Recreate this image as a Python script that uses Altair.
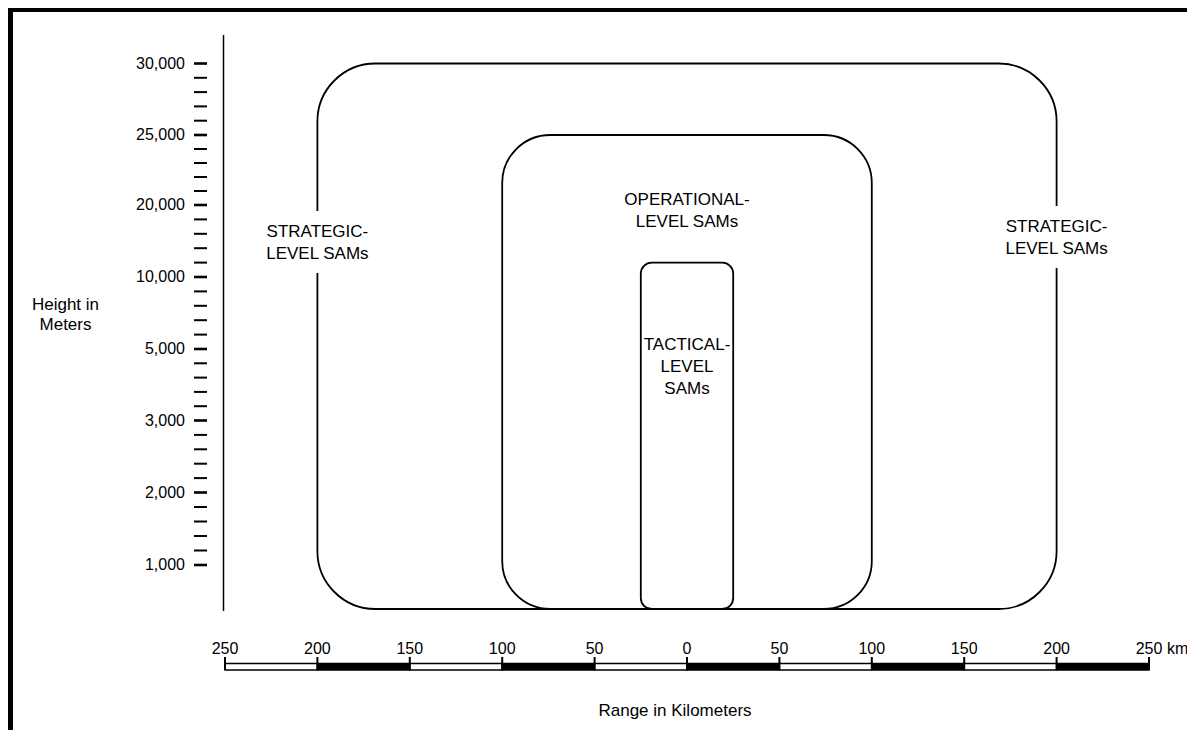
import altair as alt
import pandas as pd

# ---------------- data ----------------
height_major = [1000, 2000, 3000, 5000, 10000, 20000, 25000, 30000]

box_names = ["Strategic", "Operational", "Tactical"]
box_x_start = [-200, -100, -25]
box_x_end = [200, 100, 25]
box_bottom = [0, 0, 0]
box_top = [30000, 25000, 12000]

label_texts = ["STRATEGIC-\nLEVEL SAMs", "STRATEGIC-\nLEVEL SAMs",
               "OPERATIONAL-\nLEVEL SAMs", "TACTICAL-\nLEVEL\nSAMs"]
label_km = [-200, 200, 0, 0]
label_m = [15600, 16300, 20000, 4960]
label_halo = [True, True, False, False]

bar_km = [-250, -200, -150, -100, -50, 0, 50, 100, 150, 200, 250]
bar_labels = ["250", "200", "150", "100", "50", "0", "50", "100", "150", "200", "250"]
bar_fill = ["white", "black", "white", "black", "white", "black", "white", "black", "white", "black"]

y_title = "Height in\nMeters"
x_title = "Range in Kilometers"
unit_text = "km"

# ---------------- derived tables ----------------
minor = []
for a, b in zip(height_major[:-1], height_major[1:]):
    for k in range(1, 5):
        minor.append(a + (b - a) * k / 5)
ticks_major = pd.DataFrame({"v": height_major})
ticks_minor = pd.DataFrame({"v": minor})

boxes = pd.DataFrame({"name": box_names, "x1": box_x_start, "x2": box_x_end,
                      "y1": box_bottom, "y2": box_top})
labels = pd.DataFrame({"t": label_texts, "x": label_km, "y": label_m, "halo": label_halo})
segs = pd.DataFrame({"s": bar_km[:-1], "e": bar_km[1:], "c": bar_fill})
bar_ticks = pd.DataFrame({"x": bar_km, "t": bar_labels})

FONT = "Liberation Sans"
W, H = 1179, 722

xs = alt.Scale(domain=[-250, 250], range=[217, 1141])
ys = alt.Scale(domain=[0, 1000, 2000, 3000, 5000, 10000, 20000, 25000, 30000],
               range=[601, 557, 484.5, 412.5, 341, 269, 197, 127, 55.5])

X = lambda f: alt.X(f, type="quantitative", scale=xs, axis=None)
Y = lambda f: alt.Y(f, type="quantitative", scale=ys, axis=None)

dummy = pd.DataFrame({"a": [0]})

# frame (top and left borders)
frame_top = alt.Chart(dummy).mark_rule(color="black", strokeWidth=4).encode(
    x=alt.value(0), x2=alt.value(W), y=alt.value(2))
frame_left = alt.Chart(dummy).mark_rule(color="black", strokeWidth=5).encode(
    x=alt.value(2.5), y=alt.value(0), y2=alt.value(H))

# vertical height axis line
axis_line = alt.Chart(dummy).mark_rule(color="black", strokeWidth=1.5).encode(
    x=alt.value(215.5), y=alt.value(27), y2=alt.value(603))

tick_minor = alt.Chart(ticks_minor).mark_rule(color="black", strokeWidth=2).encode(
    x=alt.value(186), x2=alt.value(199), y=Y("v"))
tick_major = alt.Chart(ticks_major).mark_rule(color="black", strokeWidth=2.6).encode(
    x=alt.value(186), x2=alt.value(199), y=Y("v"))
tick_text = alt.Chart(ticks_major).mark_text(
    align="right", baseline="middle", font=FONT, fontSize=16, color="black").encode(
    x=alt.value(177), y=Y("v"), text=alt.Text("v:Q", format=","))

y_title_mark = alt.Chart(pd.DataFrame({"t": [y_title]})).mark_text(
    align="center", baseline="alphabetic", font=FONT, fontSize=17, color="black",
    lineBreak="\n", lineHeight=20).encode(
    x=alt.value(57.5), y=alt.value(302), text="t:N")

# rounded boxes
radii = {"Strategic": 58, "Operational": 48, "Tactical": 11}
box_layers = []
for nm in box_names:
    box_layers.append(
        alt.Chart(boxes[boxes["name"] == nm]).mark_rect(
            fillOpacity=0, stroke="black", strokeWidth=1.8,
            cornerRadius=radii[nm]).encode(
            x=X("x1"), x2="x2", y=Y("y1"), y2="y2"))

# labels (with white halo where they interrupt a line)
halo = alt.Chart(labels[labels["halo"]]).mark_text(
    align="center", baseline="alphabetic", font=FONT, fontSize=17,
    lineBreak="\n", lineHeight=22, fill="white", stroke="white",
    strokeWidth=28, strokeJoin="round").encode(
    x=X("x"), y=Y("y"), text="t:N")
label_mark = alt.Chart(labels).mark_text(
    align="center", baseline="alphabetic", font=FONT, fontSize=17,
    lineBreak="\n", lineHeight=22, color="black").encode(
    x=X("x"), y=Y("y"), text="t:N")

# scale bar
bar = alt.Chart(segs).mark_rect(stroke="black", strokeWidth=1.3).encode(
    x=X("s"), x2="e", y=alt.value(655.5), y2=alt.value(662),
    fill=alt.Fill("c:N", scale=None))
bar_tick = alt.Chart(bar_ticks).mark_rule(color="black", strokeWidth=2).encode(
    x=X("x"), y=alt.value(649), y2=alt.value(662))
bar_text = alt.Chart(bar_ticks).mark_text(
    align="center", baseline="alphabetic", font=FONT, fontSize=16, color="black").encode(
    x=X("x"), y=alt.value(646), text="t:N")
unit = alt.Chart(pd.DataFrame({"x": [bar_km[-1]], "t": [unit_text]})).mark_text(
    align="left", baseline="alphabetic", font=FONT, fontSize=16, color="black", dx=18).encode(
    x=X("x"), y=alt.value(646), text="t:N")
x_title_mark = alt.Chart(pd.DataFrame({"t": [x_title]})).mark_text(
    align="center", baseline="alphabetic", font=FONT, fontSize=17, color="black").encode(
    x=alt.value(667), y=alt.value(708), text="t:N")

chart = alt.layer(
    frame_top, frame_left, axis_line, tick_minor, tick_major, tick_text, y_title_mark,
    *box_layers, halo, label_mark, bar, bar_tick, bar_text, unit, x_title_mark
).properties(
    width=W, height=H, padding=0,
    autosize=alt.AutoSizeParams(type="none"),
    background="white"
).configure_view(stroke=None)

chart.save("out.html", embed_options={"renderer": "svg", "actions": False})
